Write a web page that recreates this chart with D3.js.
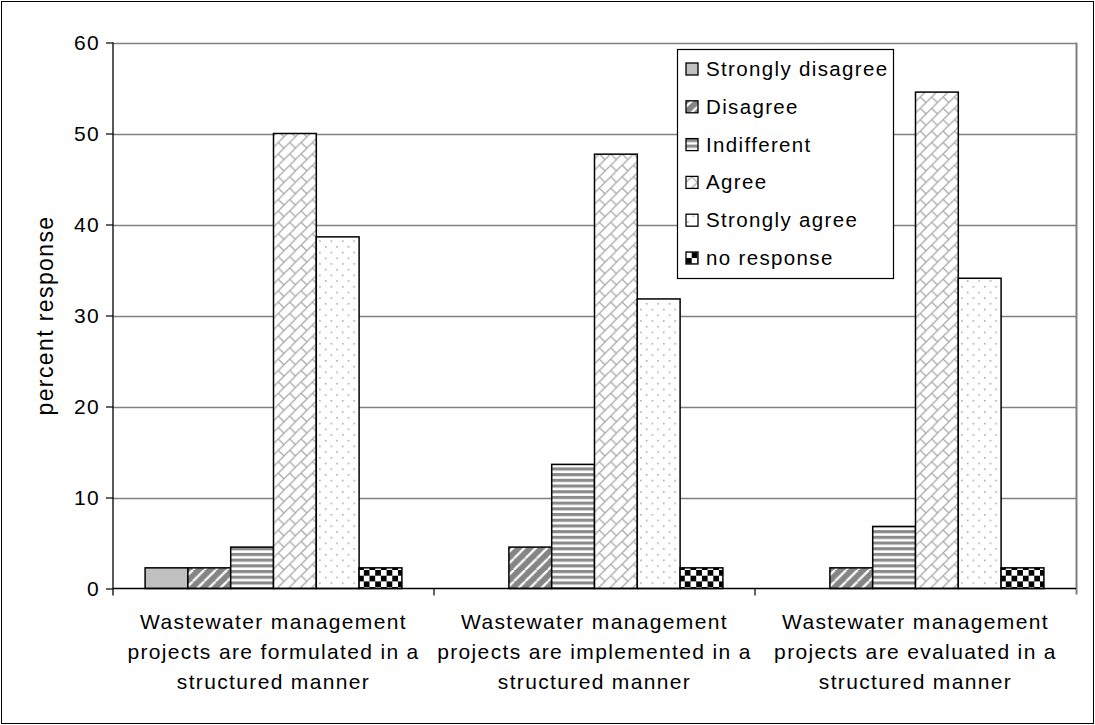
<!DOCTYPE html>
<html>
<head>
<meta charset="utf-8">
<script src="https://cdn.jsdelivr.net/npm/d3@7"></script>
<style>
  html, body { margin: 0; padding: 0; background: #fff; }
  svg { display: block; }
  text { font-family: "Liberation Sans", Arial, sans-serif; fill: #000; }
</style>
</head>
<body>
<svg id="chart" width="1095" height="725"></svg>
<script>
// Survey statements (category axis), one label line per entry
const categories = ["formulated", "implemented", "evaluated"];
const categoryLines = [
  ["Wastewater management", "projects are formulated in a", "structured manner"],
  ["Wastewater management", "projects are implemented in a", "structured manner"],
  ["Wastewater management", "projects are evaluated in a", "structured manner"]
];

// Response scale (series)
const series = ["Strongly disagree", "Disagree", "Indifferent", "Agree", "Strongly agree", "no response"];

// Percent response per statement, in series order
const formulatedValues  = [2.27, 2.27, 4.55, 50.0, 38.64, 2.27];
const implementedValues = [0, 4.55, 13.64, 47.73, 31.82, 2.27];
const evaluatedValues   = [0, 2.27, 6.82, 54.55, 34.09, 2.27];
const valuesByCategory = [formulatedValues, implementedValues, evaluatedValues];

const yTicks = [0, 10, 20, 30, 40, 50, 60];
const yLabel = "percent response";

const svg = d3.select("#chart");
const defs = svg.append("defs");
const FONT = 21;
const LS = "1.35px";

// ---- fill patterns for each response level ----
const s = 11.4;
function pattern(id, w, h) {
  return defs.append("pattern").attr("id", id)
    .attr("patternUnits", "userSpaceOnUse").attr("width", w).attr("height", h);
}
// disagree: wide upward diagonal stripes
{
  const p = pattern("pDisagree", s, s);
  p.append("rect").attr("width", s).attr("height", s).attr("fill", "#858585");
  [-s, 0, s].forEach(o => {
    p.append("line").attr("x1", o).attr("y1", s).attr("x2", o + s).attr("y2", 0)
      .attr("stroke", "#fff").attr("stroke-width", 2.2);
  });
}
// indifferent: horizontal stripes
{
  const h = 5.7;
  const p = pattern("pIndifferent", 8, h);
  p.append("rect").attr("width", 8).attr("height", h).attr("fill", "#fff");
  p.append("rect").attr("y", 0).attr("width", 8).attr("height", 2.9).attr("fill", "#8a8a8a");
  p.append("rect").attr("y", 2.9).attr("width", 8).attr("height", 0.6).attr("fill", "#c8c8c8");
}
// agree: diagonal brick
{
  const p = pattern("pAgree", s, s);
  p.append("rect").attr("width", s).attr("height", s).attr("fill", "#fff");
  const st = "#a8a8a8";
  p.append("line").attr("x1", 0).attr("y1", s).attr("x2", s).attr("y2", 0)
    .attr("stroke", st).attr("stroke-width", 1.2);
  p.append("line").attr("x1", -1).attr("y1", 1).attr("x2", 1).attr("y2", -1)
    .attr("stroke", st).attr("stroke-width", 1.2);
  p.append("line").attr("x1", s - 1).attr("y1", s + 1).attr("x2", s + 1).attr("y2", s - 1)
    .attr("stroke", st).attr("stroke-width", 1.2);
  p.append("line").attr("x1", s / 2).attr("y1", s / 2).attr("x2", s).attr("y2", s)
    .attr("stroke", st).attr("stroke-width", 1.2);
}
// strongly agree: sparse dots
{
  const p = pattern("pStronglyAgree", s, s);
  p.append("rect").attr("width", s).attr("height", s).attr("fill", "#fff");
  p.append("rect").attr("x", 1).attr("y", 1).attr("width", 1.5).attr("height", 1.5).attr("fill", "#a0a0a0");
  p.append("rect").attr("x", 1 + s / 2).attr("y", 1 + s / 2).attr("width", 1.5).attr("height", 1.5).attr("fill", "#a0a0a0");
}
// no response: large checkerboard
{
  const c = 5.7;
  const p = pattern("pNoResponse", 2 * c, 2 * c);
  p.append("rect").attr("width", 2 * c).attr("height", 2 * c).attr("fill", "#fff");
  p.append("rect").attr("x", 0).attr("y", 0).attr("width", c).attr("height", c).attr("fill", "#000");
  p.append("rect").attr("x", c).attr("y", c).attr("width", c).attr("height", c).attr("fill", "#000");
}
// strongly disagree is a plain light gray
const fills = ["#c0c0c0", "url(#pDisagree)", "url(#pIndifferent)", "url(#pAgree)",
               "url(#pStronglyAgree)", "url(#pNoResponse)"];

// ---- outer frame ----
svg.append("rect").attr("x", 1.5).attr("y", 1.5).attr("width", 1092).attr("height", 722)
  .attr("fill", "#fff").attr("stroke", "#000").attr("stroke-width", 1);

// ---- scales ----
const plot = { left: 113, right: 1076, top: 42.5, bottom: 588.5 };
const x0 = d3.scaleBand().domain(categories).range([plot.left, plot.right])
  .paddingInner(0).paddingOuter(0);
const x1 = d3.scaleBand().domain(series).range([0, x0.bandwidth()])
  .paddingInner(0).paddingOuter(0.75);
const y = d3.scaleLinear().domain([0, 60]).range([plot.bottom, plot.top]);

// ---- gridlines ----
svg.append("g").selectAll("line").data(yTicks.filter(t => t > 0)).join("line")
  .attr("x1", plot.left).attr("x2", plot.right)
  .attr("y1", d => Math.round(y(d)) + 0.5).attr("y2", d => Math.round(y(d)) + 0.5)
  .attr("stroke", "#808080").attr("stroke-width", 1.3);
// plot area right border
svg.append("line").attr("x1", plot.right + 0.5).attr("x2", plot.right + 0.5)
  .attr("y1", y(60)).attr("y2", plot.bottom + 6)
  .attr("stroke", "#808080").attr("stroke-width", 2);

// ---- bars ----
const groups = svg.append("g").selectAll("g").data(categories).join("g")
  .attr("transform", d => `translate(${x0(d)},0)`);
groups.selectAll("rect")
  .data((d, i) => valuesByCategory[i].map((v, j) => ({ key: series[j], v, j })).filter(o => o.v > 0))
  .join("rect")
  .attr("x", d => x1(d.key))
  .attr("y", d => y(d.v))
  .attr("width", x1.bandwidth())
  .attr("height", d => y(0) - y(d.v))
  .attr("fill", d => fills[d.j])
  .attr("stroke", "#000").attr("stroke-width", 1.5);

// ---- axes ----
const yAxis = d3.axisLeft(y).tickValues(yTicks).tickSize(7).tickPadding(6);
const gy = svg.append("g").attr("transform", `translate(${plot.left},0)`).call(yAxis);
gy.select(".domain").attr("d", `M0,${plot.bottom + 7}V${y(60)}`).attr("stroke", "#000").attr("stroke-width", 1.3);
gy.selectAll(".tick line").attr("stroke", "#000").attr("stroke-width", 1.2);
gy.selectAll(".tick text").attr("font-size", FONT).style("letter-spacing", LS)
  .attr("font-family", "Liberation Sans, Arial, sans-serif").attr("fill", "#000");

const xBoundaries = [plot.left, ...categories.map(c => x0(c) + x0.bandwidth())];
svg.append("line").attr("x1", plot.left).attr("x2", plot.right)
  .attr("y1", plot.bottom).attr("y2", plot.bottom).attr("stroke", "#000").attr("stroke-width", 1.5);
svg.append("g").selectAll("line").data(xBoundaries.slice(1, 3)).join("line")
  .attr("x1", d => d).attr("x2", d => d)
  .attr("y1", plot.bottom).attr("y2", plot.bottom + 7)
  .attr("stroke", "#000").attr("stroke-width", 1.2);

// category labels
const catLabels = svg.append("g").selectAll("text").data(categories).join("text")
  .attr("text-anchor", "middle")
  .attr("font-size", FONT).style("letter-spacing", LS)
  .attr("transform", d => `translate(${x0(d) + x0.bandwidth() / 2},629)`);
catLabels.selectAll("tspan").data((d, i) => categoryLines[i]).join("tspan")
  .attr("x", 0).attr("y", (d, i) => i * 30).text(d => d);

// y-axis title
svg.append("text")
  .attr("transform", `translate(53,${(plot.top + plot.bottom) / 2}) rotate(-90)`)
  .attr("text-anchor", "middle").attr("font-size", 23).style("letter-spacing", "1.4px")
  .text(yLabel);

// ---- legend ----
const lg = svg.append("g");
lg.append("rect").attr("x", 677.5).attr("y", 49.5).attr("width", 216).attr("height", 229)
  .attr("fill", "#fff").attr("stroke", "#000").attr("stroke-width", 1.2);
const items = lg.selectAll("g").data(series).join("g")
  .attr("transform", (d, i) => `translate(686,${69 + i * 37.8})`);
items.append("rect").attr("x", 0).attr("y", -6).attr("width", 12).attr("height", 12)
  .attr("fill", (d, i) => fills[i]).attr("stroke", "#000").attr("stroke-width", 1.3);
items.append("text").attr("x", 20).attr("y", 7).attr("font-size", 20.5).style("letter-spacing", LS)
  .text(d => d);
</script>
</body>
</html>
